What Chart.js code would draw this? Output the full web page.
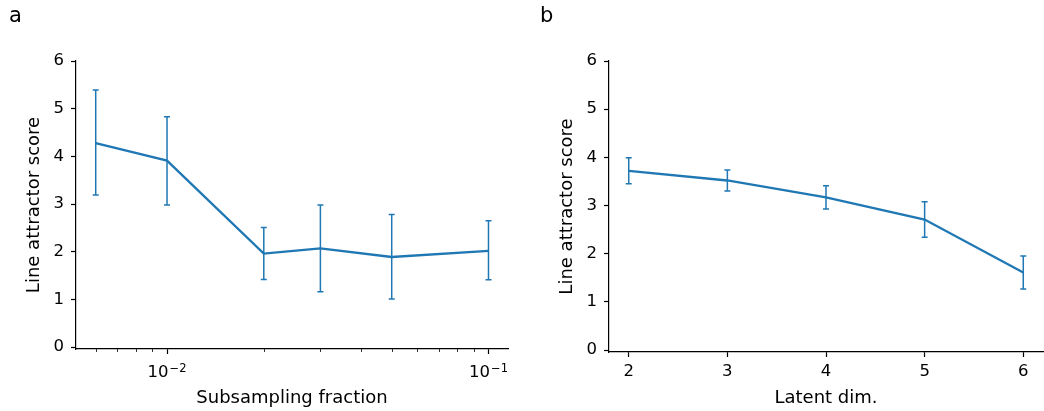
<!DOCTYPE html>
<html>
<head>
<meta charset="utf-8">
<script src="https://cdn.jsdelivr.net/npm/chart.js@4.4.1/dist/chart.umd.min.js"></script>
<style>
  body { margin: 0; background: #fff; }
  .panel { position: absolute; top: 0; width: 522px; height: 411px; }
  .tag { position: absolute; top: 3px; font: 21px "DejaVu Sans", sans-serif; color: #000; }
</style>
</head>
<body>
<div class="panel" style="left:0"><canvas id="chartA"></canvas></div>
<div class="panel" style="left:522px"><canvas id="chartB"></canvas></div>
<div class="tag" style="left:9px">a</div>
<div class="tag" style="left:540px">b</div>
<script>
// panel a: subsampling fraction (log x)
const subFrac = [0.006, 0.01, 0.02, 0.03, 0.05, 0.1];
const subScore = [4.28, 3.91, 1.96, 2.07, 1.89, 2.02];
const subLow = [3.19, 2.98, 1.42, 1.16, 1.01, 1.41];
const subHigh = [5.39, 4.83, 2.51, 2.98, 2.78, 2.65];
const subTicks = [0.01, 0.1];
const subTickExp = ['\u22122', '\u22121'];

// panel b: latent dimension
const latentDims = [2, 3, 4, 5, 6];
const latentScore = [3.72, 3.52, 3.17, 2.71, 1.61];
const latentLow = [3.45, 3.30, 2.93, 2.34, 1.27];
const latentHigh = [3.99, 3.74, 3.41, 3.08, 1.95];

const yTicks = [0, 1, 2, 3, 4, 5, 6];

const blue = '#1f77b4';
const tickFont = { family: 'DejaVu Sans', size: 16.5 };
const titleFont = { family: 'DejaVu Sans', size: 18 };
Chart.defaults.color = '#000';

// draws error bars from dataset.errLow / dataset.errHigh
const errorBars = {
    id: 'errorBars',
    afterDatasetsDraw(chart) {
        const ctx = chart.ctx;
        const xs = chart.scales.x, ys = chart.scales.y;
        chart.data.datasets.forEach(ds => {
            ctx.save();
            ctx.strokeStyle = ds.borderColor;
            ctx.lineWidth = 1.5;
            ds.data.forEach((p, i) => {
                let x = xs.getPixelForValue(p.x);
                let y1 = ys.getPixelForValue(ds.errLow[i]);
                let y2 = ys.getPixelForValue(ds.errHigh[i]);
                ctx.beginPath();
                ctx.moveTo(x, y1); ctx.lineTo(x, y2);
                ctx.moveTo(x - 3, y1); ctx.lineTo(x + 3, y1);
                ctx.moveTo(x - 3, y2); ctx.lineTo(x + 3, y2);
                ctx.stroke();
            });
            ctx.restore();
        });
    }
};

// minor ticks and 10^n labels for the log axis
const logAxisExtras = {
    id: 'logAxisExtras',
    afterDraw(chart) {
        const xs = chart.scales.x;
        if (xs.type !== 'logarithmic') return;
        const ctx = chart.ctx;
        ctx.save();
        ctx.strokeStyle = '#000';
        ctx.lineWidth = 0.8;
        for (let d = -3; d <= -1; d++) {
            for (let m = 2; m <= 9; m++) {
                let v = m * Math.pow(10, d);
                if (v < xs.min || v > xs.max) continue;
                let x = Math.round(xs.getPixelForValue(v)) + 0.5;
                ctx.beginPath();
                ctx.moveTo(x, xs.top);
                ctx.lineTo(x, xs.top + 3);
                ctx.stroke();
            }
        }
        ctx.fillStyle = '#000';
        ctx.textBaseline = 'alphabetic';
        ctx.textAlign = 'left';
        subTicks.forEach((v, i) => {
            ctx.font = '16.5px "DejaVu Sans"';
            let wBase = ctx.measureText('10').width;
            ctx.font = '11.5px "DejaVu Sans"';
            let wExp = ctx.measureText(subTickExp[i]).width;
            let x0 = xs.getPixelForValue(v) - (wBase + wExp + 1) / 2;
            let base = xs.top + 28;
            ctx.font = '16.5px "DejaVu Sans"';
            ctx.fillText('10', x0, base);
            ctx.font = '11.5px "DejaVu Sans"';
            ctx.fillText(subTickExp[i], x0 + wBase + 1, base - 5);
        });
        ctx.restore();
    }
};

function yAxis(width, titlePad) {
    return {
        min: -0.04, max: 6,
        afterBuildTicks: s => { s.ticks = yTicks.map(v => ({ value: v })); },
        afterFit: s => { s.width = width; },
        grid: { drawOnChartArea: false, tickLength: 5, tickColor: '#000', tickWidth: 1.2 },
        border: { color: '#000', width: 1.2 },
        ticks: { font: tickFont, padding: 7 },
        title: { display: true, text: 'Line attractor score', font: titleFont, padding: titlePad }
    };
}

function makeChart(id, points, low, high, xScale, yScale, pad) {
    new Chart(document.getElementById(id).getContext('2d'), {
        type: 'line',
        data: {
            datasets: [{
                data: points,
                borderColor: blue,
                borderWidth: 2.3,
                pointRadius: 0,
                tension: 0,
                errLow: low,
                errHigh: high
            }]
        },
        options: {
            responsive: true,
            maintainAspectRatio: false,
            animation: false,
            layout: { padding: pad },
            plugins: { legend: { display: false }, tooltip: { enabled: false } },
            scales: { x: xScale, y: yScale }
        },
        plugins: [errorBars, logAxisExtras]
    });
}

makeChart('chartA',
    subFrac.map((v, i) => ({ x: v, y: subScore[i] })), subLow, subHigh,
    {
        type: 'logarithmic',
        min: 0.00521, max: 0.115,
        afterBuildTicks: s => { s.ticks = subTicks.map(v => ({ value: v })); },
        afterFit: s => { s.height = 62; },
        grid: { drawOnChartArea: false, tickLength: 5, tickColor: '#000', tickWidth: 1.2 },
        border: { color: '#000', width: 1.2 },
        ticks: { font: tickFont, padding: 3, maxRotation: 0, autoSkip: false, callback: () => '' },
        title: { display: true, text: 'Subsampling fraction', font: titleFont, padding: { top: 0, bottom: 2 } }
    },
    yAxis(76, { top: 24, bottom: 0 }),
    { left: 0, right: 14, top: 61, bottom: 0 });

makeChart('chartB',
    latentDims.map((v, i) => ({ x: v, y: latentScore[i] })), latentLow, latentHigh,
    {
        type: 'linear',
        min: 1.8, max: 6.2,
        afterBuildTicks: s => { s.ticks = latentDims.map(v => ({ value: v })); },
        afterFit: s => { s.height = 59; },
        grid: { drawOnChartArea: false, tickLength: 5, tickColor: '#000', tickWidth: 1.2 },
        border: { color: '#000', width: 1.2 },
        ticks: { font: tickFont, padding: 5, maxRotation: 0, autoSkip: false },
        title: { display: true, text: 'Latent dim.', font: titleFont, padding: { top: 0, bottom: 2 } }
    },
    yAxis(87, { top: 35, bottom: 0 }),
    { left: 0, right: 1, top: 61, bottom: 0 });
</script>
</body>
</html>
